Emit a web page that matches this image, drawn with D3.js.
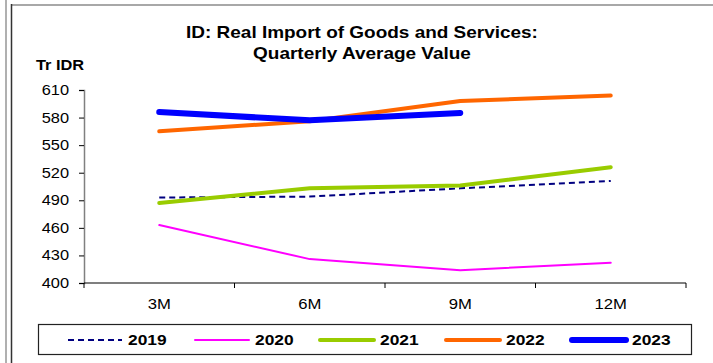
<!DOCTYPE html>
<html>
<head>
<meta charset="utf-8">
<script src="https://cdn.jsdelivr.net/npm/d3@7"></script>
<style>
  body { margin: 0; background: #fff; }
  svg { display: block; font-family: "Liberation Sans", Arial, sans-serif; }
</style>
</head>
<body>
<div id="chart"></div>
<script>
// chart data
var categories = ["3M", "6M", "9M", "12M"];
var yTicks = [400, 430, 460, 490, 520, 550, 580, 610];
var seriesNames = ["2019", "2020", "2021", "2022", "2023"];
var v2019 = [493, 494, 503, 511];
var v2020 = [463, 426, 414, 422];
var v2021 = [487, 503, 506, 526];
var v2022 = [565, 576, 598, 604];
var v2023 = [586, 577, 585];

var seriesStyle = {
  "2019": {color: "#000080", width: 2, dash: "6,4"},
  "2020": {color: "#ff00ff", width: 2, dash: null},
  "2021": {color: "#99cc00", width: 4, dash: null},
  "2022": {color: "#ff6600", width: 4, dash: null},
  "2023": {color: "#0000ff", width: 6, dash: null}
};

var seriesData = {"2019": v2019, "2020": v2020, "2021": v2021, "2022": v2022, "2023": v2023};

var W = 713, H = 363;
var plot = {left: 84, right: 686, top: 90, bottom: 283};

// the original text is a bit wider than Arial, stretch horizontally around x
function stretch(sel, sx) {
  sel.attr("transform", function() {
    var x = +d3.select(this).attr("x") || 0;
    return "translate(" + x + ",0) scale(" + sx + ",1) translate(" + (-x) + ",0)";
  });
}

var svg = d3.select("#chart").append("svg")
    .attr("width", W)
    .attr("height", H);

// outer frame lines
svg.append("line").attr("x1", 6).attr("x2", 6).attr("y1", 0).attr("y2", H)
    .attr("stroke", "#b0b0b0").attr("stroke-width", 2);
svg.append("line").attr("x1", 11).attr("x2", W).attr("y1", 5).attr("y2", 5)
    .attr("stroke", "#a8a8a8").attr("stroke-width", 2);
svg.append("line").attr("x1", 11.5).attr("x2", 11.5).attr("y1", 4).attr("y2", H)
    .attr("stroke", "#333").attr("stroke-width", 1.5);

// scales
var xScale = d3.scaleBand().domain(categories).range([plot.left, plot.right]).padding(0);
var yScale = d3.scaleLinear().domain([400, 610]).range([plot.bottom, plot.top]);

// title
svg.append("text")
    .attr("x", 362).attr("y", 38)
    .attr("text-anchor", "middle")
    .style("font-size", "16.5px").style("font-weight", "bold")
    .text("ID: Real Import of Goods and Services:")
    .call(stretch, 1.15);
svg.append("text")
    .attr("x", 362).attr("y", 59)
    .attr("text-anchor", "middle")
    .style("font-size", "16.5px").style("font-weight", "bold")
    .text("Quarterly Average Value")
    .call(stretch, 1.15);

svg.append("text")
    .attr("x", 36).attr("y", 70)
    .style("font-size", "14px").style("font-weight", "bold")
    .text("Tr IDR")
    .call(stretch, 1.17);

// y axis
var yAxis = svg.append("g")
    .attr("transform", "translate(" + plot.left + ",0)")
    .call(d3.axisLeft(yScale).tickValues(yTicks).tickSize(5).tickPadding(10));
yAxis.select(".domain").attr("stroke", "#808080").attr("stroke-width", 1.5);
yAxis.selectAll(".tick line").attr("stroke", "#000");
yAxis.selectAll(".tick text").style("font-size", "14px").attr("fill", "#000")
    .style("font-family", "'Liberation Sans', Arial, sans-serif")
    .call(stretch, 1.17);

// x axis with tick marks at band edges
var xAxis = svg.append("g")
    .attr("transform", "translate(0," + plot.bottom + ")");
xAxis.append("line")
    .attr("x1", plot.left).attr("x2", plot.right)
    .attr("stroke", "#000").attr("stroke-width", 1.2);
var edges = categories.map(function(c) { return xScale(c); }).concat([plot.right]);
xAxis.selectAll(".xtick").data(edges).enter().append("line")
    .attr("class", "xtick")
    .attr("x1", function(d) { return d; }).attr("x2", function(d) { return d; })
    .attr("y1", 0).attr("y2", 5)
    .attr("stroke", "#000");
xAxis.selectAll(".xlabel").data(categories).enter().append("text")
    .attr("class", "xlabel")
    .attr("x", function(d) { return xScale(d) + xScale.bandwidth() / 2; })
    .attr("y", 26)
    .attr("text-anchor", "middle")
    .style("font-size", "14.5px")
    .text(function(d) { return d; })
    .call(stretch, 1.15);

// lines
var line = d3.line()
    .x(function(d, i) { return xScale(categories[i]) + xScale.bandwidth() / 2; })
    .y(function(d) { return yScale(d); });

seriesNames.forEach(function(name) {
  var s = seriesStyle[name];
  svg.append("path")
      .datum(seriesData[name])
      .attr("fill", "none")
      .attr("stroke", s.color)
      .attr("stroke-width", s.width)
      .attr("stroke-linecap", s.dash ? "butt" : "round")
      .attr("stroke-linejoin", "round")
      .attr("stroke-dasharray", s.dash)
      .attr("d", line);
});

// legend
var legend = svg.append("g");
legend.append("rect")
    .attr("x", 38.5).attr("y", 324.5).attr("width", 653).attr("height", 30)
    .attr("fill", "#fff").attr("stroke", "#222").attr("stroke-width", 1.2);

var legendX = [68, 195, 320, 446, 572];
seriesNames.forEach(function(name, i) {
  var s = seriesStyle[name];
  legend.append("line")
      .attr("x1", legendX[i]).attr("x2", legendX[i] + 54)
      .attr("y1", 340).attr("y2", 340)
      .attr("stroke", s.color)
      .attr("stroke-width", s.width)
      .attr("stroke-linecap", s.dash ? "butt" : "round")
      .attr("stroke-dasharray", s.dash);
  legend.append("text")
      .attr("x", legendX[i] + 60).attr("y", 345.5)
      .style("font-size", "15.5px").style("font-weight", "bold")
      .text(name)
      .call(stretch, 1.12);
});
</script>
</body>
</html>
